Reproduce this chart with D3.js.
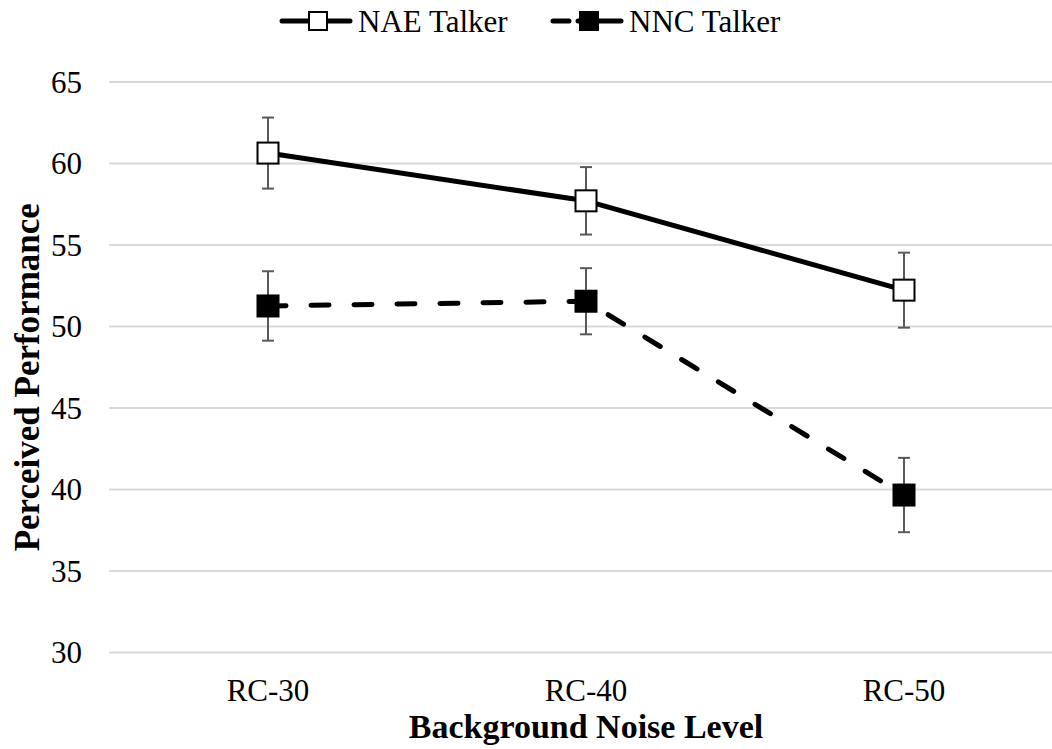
<!DOCTYPE html>
<html><head><meta charset="utf-8">
<script src="https://cdn.jsdelivr.net/npm/d3@7"></script>
<style>body{margin:0;background:#fff}svg{display:block}text{font-family:"Liberation Serif","Times New Roman",serif;fill:#000}</style>
</head><body><svg id="c" width="1052" height="749"></svg>
<script>
const categories = ["RC-30", "RC-40", "RC-50"];
const seriesNames = ["NAE Talker", "NNC Talker"];
const naeValues = [60.64, 57.71, 52.23];
const naeErrors = [2.18, 2.07, 2.3];
const nncValues = [51.26, 51.55, 39.66];
const nncErrors = [2.13, 2.03, 2.28];
const yTicks = [30, 35, 40, 45, 50, 55, 60, 65];

const W = 1052, H = 749;
const svg = d3.select("#c");
const x = d3.scaleBand().domain(categories).range([109, 1063]);
const cx = c => x(c) + x.bandwidth() / 2;
const y = d3.scaleLinear().domain([30, 65]).range([652.5, 82]);

// gridlines
svg.append("g").selectAll("line").data(yTicks).join("line")
  .attr("x1", 109).attr("x2", W).attr("y1", d => y(d)).attr("y2", d => y(d))
  .attr("stroke", "#d9d9d9").attr("stroke-width", 2);

// y tick labels
svg.append("g").selectAll("text").data(yTicks).join("text")
  .attr("x", 82).attr("y", d => y(d)).attr("dy", "0.35em")
  .attr("text-anchor", "end").attr("font-size", 31).text(d => d);

// x tick labels
svg.append("g").selectAll("text").data(categories).join("text")
  .attr("x", d => cx(d)).attr("y", 701)
  .attr("text-anchor", "middle").attr("font-size", 31).text(d => d);

// axis titles
svg.append("text").attr("x", cx("RC-40")).attr("y", 738).attr("text-anchor", "middle")
  .attr("font-size", 34).attr("font-weight", "bold").text("Background Noise Level");
svg.append("text").attr("transform", `translate(39,${(y(30)+y(65))/2 + 10}) rotate(-90)`)
  .attr("text-anchor", "middle").attr("font-size", 35).attr("font-weight", "bold")
  .text("Perceived Performance");

const series = [
  {name: seriesNames[0], vals: naeValues, errs: naeErrors, fill: "#fff", dash: null},
  {name: seriesNames[1], vals: nncValues, errs: nncErrors, fill: "#000", dash: "18 25"}
];

series.forEach(s => {
  const pts = categories.map((c, i) => ({c, v: s.vals[i], e: s.errs[i]}));
  const g = svg.append("g");
  // error bars
  g.selectAll("line.eb").data(pts).join("line").attr("class", "eb")
    .attr("x1", d => cx(d.c)).attr("x2", d => cx(d.c))
    .attr("y1", d => y(d.v + d.e)).attr("y2", d => y(d.v - d.e))
    .attr("stroke", "#595959").attr("stroke-width", 2);
  [1, -1].forEach(sg => {
    g.selectAll(null).data(pts).join("line")
      .attr("x1", d => cx(d.c) - 6).attr("x2", d => cx(d.c) + 6)
      .attr("y1", d => y(d.v + sg * d.e)).attr("y2", d => y(d.v + sg * d.e))
      .attr("stroke", "#595959").attr("stroke-width", 2);
  });
  // line
  const line = d3.line().x(d => cx(d.c)).y(d => y(d.v));
  g.append("path").attr("d", line(pts)).attr("fill", "none").attr("stroke", "#000")
    .attr("stroke-width", 5).attr("stroke-linecap", "round").attr("stroke-linejoin", "round")
    .attr("stroke-dasharray", s.dash);
  // markers
  g.selectAll("rect").data(pts).join("rect")
    .attr("x", d => cx(d.c) - 10.5).attr("y", d => y(d.v) - 10.5)
    .attr("width", 21).attr("height", 21)
    .attr("fill", s.fill).attr("stroke", "#000").attr("stroke-width", 2);
});

// legend
const legendItems = [
  {name: seriesNames[0], x0: 282, fill: "#fff", dash: null},
  {name: seriesNames[1], x0: 553, fill: "#000", dash: "16 9 60"}
];
const lg = svg.append("g");
legendItems.forEach(it => {
  lg.append("line").attr("x1", it.x0).attr("x2", it.x0 + 68).attr("y1", 21).attr("y2", 21)
    .attr("stroke", "#000").attr("stroke-width", 5).attr("stroke-linecap", "round")
    .attr("stroke-dasharray", it.dash);
  lg.append("rect").attr("x", it.x0 + 36 - 9).attr("y", 21 - 9).attr("width", 18).attr("height", 18)
    .attr("fill", it.fill).attr("stroke", "#000").attr("stroke-width", 2);
  lg.append("text").attr("x", it.x0 + 76).attr("y", 21).attr("dy", "0.35em")
    .attr("font-size", 31).text(it.name);
});
</script></body></html>
